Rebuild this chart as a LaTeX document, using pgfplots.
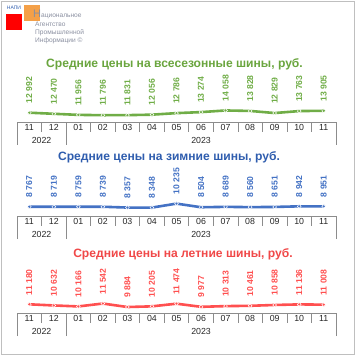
\documentclass[border=0pt]{standalone}
\usepackage{pgfplots}
\pgfplotsset{compat=1.18}
\usepackage{fontspec}
\setmainfont{Liberation Sans}
\definecolor{cgreen}{HTML}{70AD47}
\definecolor{cgreent}{HTML}{6AA53E}
\definecolor{cblue}{HTML}{4472C4}
\definecolor{cbluet}{HTML}{2F5DAE}
\definecolor{cred}{HTML}{FF5050}
\definecolor{credt}{HTML}{F04848}
\definecolor{cgrid}{HTML}{8C8C8C}
\definecolor{clogo}{HTML}{8A8FA0}
\definecolor{corange}{HTML}{F4A048}
\pgfplotsset{
  panel/.style={
    scale only axis, width=319pt, height=40pt,
    xmin=-0.5, xmax=12.5,
    axis x line=bottom, axis y line=none,
    x axis line style={-, draw=cgrid, line width=0.6pt},
    xtick={0,1,2,3,4,5,6,7,8,9,10,11,12},
    xticklabels={11,12,01,02,03,04,05,06,07,08,09,10,11},
    major tick length=0pt,
    minor xtick={-0.5,0.5,1.5,2.5,3.5,4.5,5.5,6.5,7.5,8.5,9.5,10.5,11.5,12.5},
    minor tick length=10pt,
    tick align=outside,
    tick style={draw=cgrid, line width=0.6pt},
    extra x ticks={-0.5,1.5,12.5},
    extra x tick labels={},
    extra x tick style={major tick length=23pt, tick align=outside},
    xticklabel style={font=\fontsize{8.8}{9}\selectfont, text=black!85, yshift=1pt},
    clip=false,
    nodes near coords,
    point meta=y,
    /pgf/number format/.cd, fixed, precision=0, 1000 sep={\ }, assume math mode=true,
    /pgfplots/.cd,
  },
  ser/.style={line width=2.6pt, color=#1, mark=*, mark size=1.9pt,
    mark options={fill=#1, draw=white, line width=0.5pt},
    every node near coord/.append style={yshift=9pt, rotate=90, anchor=west, inner sep=0pt,
      font=\bfseries\fontsize{8.6}{9}\selectfont, text=#1}},
}
\begin{document}
\begin{tikzpicture}[x=1pt,y=1pt]
\path (0pt,0pt) rectangle (355pt,356pt);
\draw[draw=black!25, line width=0.8pt] (1pt,2pt) rectangle (354pt,355pt);
% logo
\fill[red] (6pt,326pt) rectangle (22pt,342pt);
\fill[corange] (24pt,335pt) rectangle (40pt,351pt);
\node[anchor=center, text=cbluet, font=\fontsize{5}{5}\selectfont] at (14pt,348pt) {НАПИ};
\node[anchor=base west, inner sep=0pt, text=clogo] at (33pt,338pt) {{\fontsize{11}{11}\selectfont Н}{\fontsize{6.6}{7}\selectfont ациональное}};
\node[anchor=base west, inner sep=0pt, text=clogo, font=\fontsize{6.6}{7}\selectfont] at (35pt,329.5pt) {Агентство};
\node[anchor=base west, inner sep=0pt, text=clogo, font=\fontsize{6.6}{7}\selectfont] at (35pt,321.5pt) {Промышленной};
\node[anchor=base west, inner sep=0pt, text=clogo, font=\fontsize{6.6}{7}\selectfont] at (35pt,313.5pt) {Информации ©};
% titles
\node[text=cgreent, font=\bfseries\fontsize{12.1}{13}\selectfont] at (174.5pt,292pt) {Средние цены на всесезонные шины, руб.};
\node[text=cbluet, font=\bfseries\fontsize{12.1}{13}\selectfont] at (169pt,199pt) {Средние цены на зимние шины, руб.};
\node[text=credt, font=\bfseries\fontsize{12.1}{13}\selectfont] at (183pt,102pt) {Средние цены на летние шины, руб.};
% panel 1
\begin{axis}[panel, at={(17pt,234pt)}, anchor=south west, ymin=8563, ymax=27611]
\addplot[ser=cgreen] coordinates {(0,12992) (1,12470) (2,11956) (3,11796) (4,11831) (5,12056) (6,12786) (7,13274) (8,14058) (9,13828) (10,12829) (11,13763) (12,13905)};
\node[font=\fontsize{8.8}{9}\selectfont, text=black!85] at (axis cs:0.5,8563) [yshift=-18pt] {2022};
\node[font=\fontsize{8.8}{9}\selectfont, text=black!85] at (axis cs:7,8563) [yshift=-18pt] {2023};
\end{axis}
% panel 2
\begin{axis}[panel, at={(17pt,140pt)}, anchor=south west, ymin=4338, ymax=23386]
\addplot[ser=cblue] coordinates {(0,8767) (1,8719) (2,8759) (3,8739) (4,8357) (5,8348) (6,10235) (7,8504) (8,8689) (9,8560) (10,8651) (11,8942) (12,8951)};
\node[font=\fontsize{8.8}{9}\selectfont, text=black!85] at (axis cs:0.5,4338) [yshift=-18pt] {2022};
\node[font=\fontsize{8.8}{9}\selectfont, text=black!85] at (axis cs:7,4338) [yshift=-18pt] {2023};
\end{axis}
% panel 3
\begin{axis}[panel, at={(17pt,43pt)}, anchor=south west, ymin=7037, ymax=26085]
\addplot[ser=cred] coordinates {(0,11180) (1,10632) (2,10166) (3,11542) (4,9884) (5,10205) (6,11474) (7,9977) (8,10313) (9,10461) (10,10858) (11,11136) (12,11008)};
\node[font=\fontsize{8.8}{9}\selectfont, text=black!85] at (axis cs:0.5,7037) [yshift=-18pt] {2022};
\node[font=\fontsize{8.8}{9}\selectfont, text=black!85] at (axis cs:7,7037) [yshift=-18pt] {2023};
\end{axis}
\end{tikzpicture}
\end{document}
